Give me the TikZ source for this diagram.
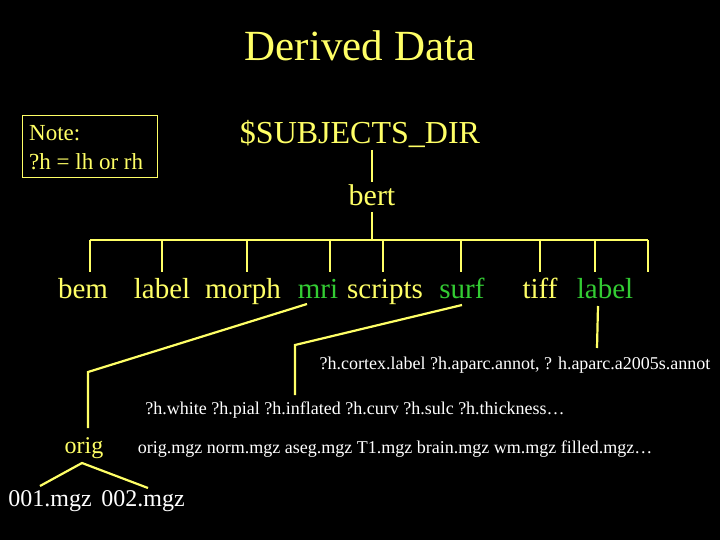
\documentclass[tikz,border=0pt]{standalone}
\usepackage{fontspec}
\setmainfont{Liberation Serif}
\definecolor{yel}{HTML}{FFFF66}
\definecolor{grn}{HTML}{33CC33}
\begin{document}
\begin{tikzpicture}[x=1pt,y=-1pt,
  ln/.style={draw=yel,line width=2.2pt},
  t/.style={inner sep=0pt,anchor=base},
  yt/.style={t,text=yel},
  gt/.style={t,text=grn},
  wt/.style={t,text=white}]
\fill[black] (0,0) rectangle (720,540);
\useasboundingbox (0,0) rectangle (720,540);
\node[yt,font=\fontsize{43}{45}\selectfont] (title) at (360,61) {Derived Data};
\node[draw=yel,line width=1pt,minimum width=135pt,minimum height=62pt] (notebox) at (89.5,147) {};
\node[yt,anchor=base west,font=\fontsize{23}{25}\selectfont] (n1) at (29,141) {Note:};
\node[yt,anchor=base west,font=\fontsize{23}{25}\selectfont] (n2) at (29,170) {?h = lh or rh};
\node[yt,font=\fontsize{32}{34}\selectfont] (sd) at (360,144) {\$SUBJECTS\_DIR};
\node[yt,font=\fontsize{30}{32}\selectfont] (bert) at (372,206) {bert};
\coordinate (a1) at (372,150); \coordinate (a2) at (372,182);
\coordinate (b1) at (372,212); \coordinate (b2) at (372,240);
\draw[ln] (a1) -- (a2);
\draw[ln] (b1) -- (b2);
\coordinate (hl) at (90,240); \coordinate (hr) at (648,240);
\draw[ln] (hl) -- (hr);
\foreach \x in {90,162,247,330,383,461,540,595,648}{
  \draw[ln] (\x,240) -- (\x,272);}
\begin{scope}[font=\fontsize{29}{31}\selectfont]
\node[yt] (bem) at (83,298) {bem};
\node[yt] (label1) at (162,298) {label};
\node[yt] (morph) at (243,298) {morph};
\node[gt] (mri) at (318,298) {mri};
\node[yt] (scripts) at (385,298) {scripts};
\node[gt] (surf) at (462,298) {surf};
\node[yt] (tiff) at (540,298) {tiff};
\node[gt] (label2) at (605,298) {label};
\end{scope}
\coordinate (m1) at (307,304); \coordinate (m2) at (88,372); \coordinate (m3) at (88,428);
\draw[ln] (m1) -- (m2) -- (m3);
\coordinate (s1) at (462,305); \coordinate (s2) at (295,345); \coordinate (s3) at (295,395);
\draw[ln] (s1) -- (s2) -- (s3);
\coordinate (l1) at (598,306); \coordinate (l2) at (597,348);
\draw[ln] (l1) -- (l2);
\node[wt,font=\fontsize{18}{20}\selectfont] (cortex) at (515,369) {?h.cortex.label ?h.aparc.annot, ? h.aparc.a2005s.annot};
\node[wt,font=\fontsize{18}{20}\selectfont] (white) at (355,414) {?h.white ?h.pial ?h.inflated ?h.curv ?h.sulc ?h.thickness…};
\node[yt,font=\fontsize{24}{26}\selectfont] (orig) at (84,453) {orig};
\node[wt,font=\fontsize{18}{20}\selectfont] (mgz) at (395,453) {orig.mgz norm.mgz aseg.mgz T1.mgz brain.mgz wm.mgz filled.mgz…};
\coordinate (o1) at (82,463); \coordinate (o2) at (40,486); \coordinate (o3) at (148,488);
\draw[ln] (o2) -- (o1) -- (o3);
\node[wt,font=\fontsize{24}{26}\selectfont] (f1) at (50,506) {001.mgz};
\node[wt,font=\fontsize{24}{26}\selectfont] (f2) at (143,506) {002.mgz};
\end{tikzpicture}
\end{document}
